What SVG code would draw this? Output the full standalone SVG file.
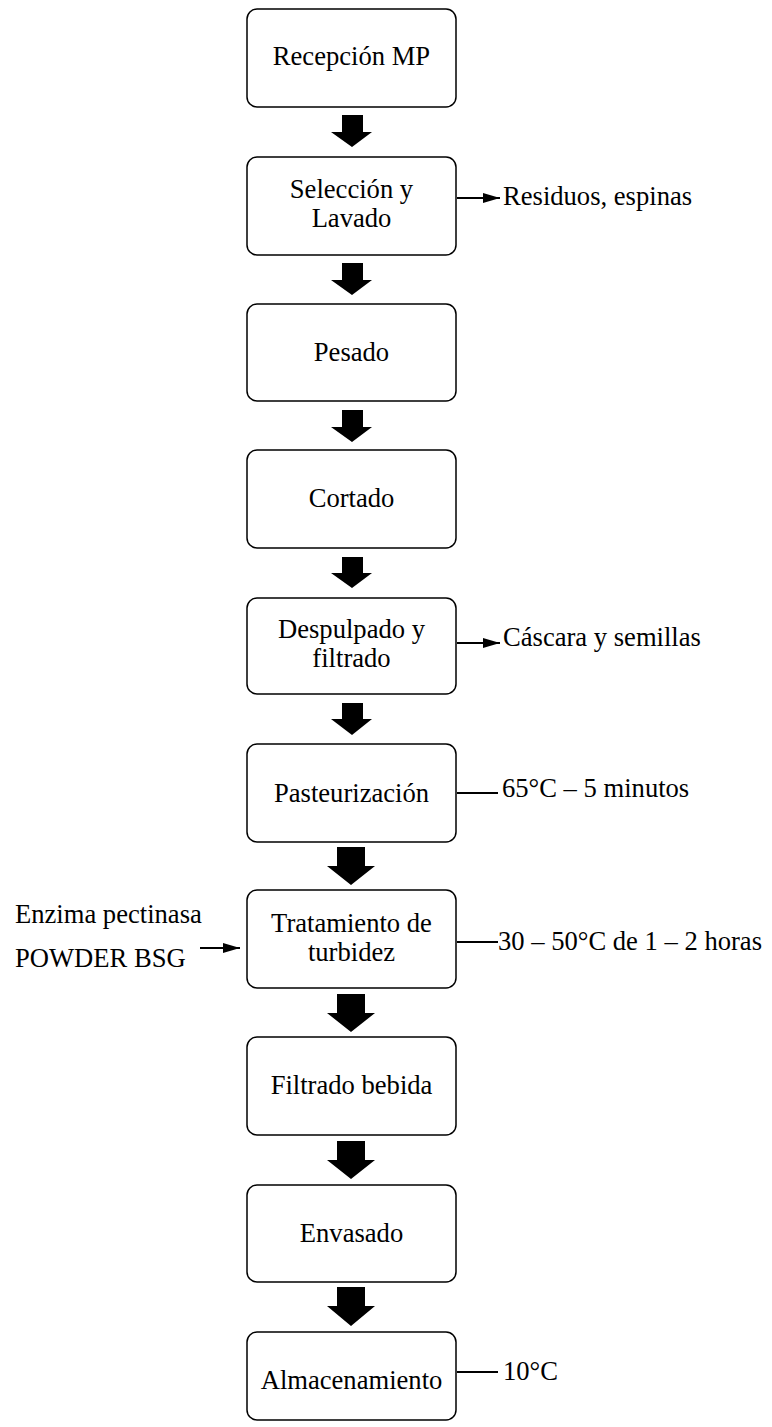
<svg xmlns="http://www.w3.org/2000/svg" width="772" height="1427" viewBox="0 0 772 1427">
  <style>
    .box { fill: #ffffff; stroke: #000000; stroke-width: 1.5; }
    .mid { text-anchor: middle; }
    .line { stroke: #000000; stroke-width: 2; fill: none; }
    .blk { fill: #000000; }
  </style>
  <defs>
    <marker id="tri" viewBox="0 0 17 10" refX="17" refY="5" markerWidth="17" markerHeight="10" markerUnits="userSpaceOnUse" orient="auto">
      <path d="M0,0 L17,5 L0,10 z" fill="#000000"/>
    </marker>
  </defs>

  <rect width="772" height="1427" fill="#ffffff"/>

  <g font-family="Liberation Serif, Times New Roman, serif" font-size="26.6" fill="#000000">
    <!-- process steps -->
    <g id="recepcion">
      <rect class="box" x="247" y="9" width="209" height="98" rx="10"/>
      <text class="mid" x="351.5" y="65">Recepción MP</text>
    </g>
    <g id="seleccion">
      <rect class="box" x="247" y="157" width="209" height="98" rx="10"/>
      <text class="mid" x="351.5" y="198">Selección y</text>
      <text class="mid" x="351.5" y="227">Lavado</text>
    </g>
    <g id="pesado">
      <rect class="box" x="247" y="304" width="209" height="97" rx="10"/>
      <text class="mid" x="351.5" y="361">Pesado</text>
    </g>
    <g id="cortado">
      <rect class="box" x="247" y="450" width="209" height="98" rx="10"/>
      <text class="mid" x="351.5" y="507">Cortado</text>
    </g>
    <g id="despulpado">
      <rect class="box" x="247" y="598" width="209" height="96" rx="10"/>
      <text class="mid" x="351.5" y="638">Despulpado y</text>
      <text class="mid" x="351.5" y="667">filtrado</text>
    </g>
    <g id="pasteurizacion">
      <rect class="box" x="247" y="744" width="209" height="98" rx="10"/>
      <text class="mid" x="351.5" y="802">Pasteurización</text>
    </g>
    <g id="tratamiento">
      <rect class="box" x="247" y="890" width="209" height="98" rx="10"/>
      <text class="mid" x="351.5" y="932">Tratamiento de</text>
      <text class="mid" x="351.5" y="961">turbidez</text>
    </g>
    <g id="filtrado-bebida">
      <rect class="box" x="247" y="1037" width="209" height="98" rx="10"/>
      <text class="mid" x="351.5" y="1094">Filtrado bebida</text>
    </g>
    <g id="envasado">
      <rect class="box" x="247" y="1185" width="209" height="97" rx="10"/>
      <text class="mid" x="351.5" y="1242">Envasado</text>
    </g>
    <g id="almacenamiento">
      <rect class="box" x="247" y="1332" width="209" height="88" rx="10"/>
      <text class="mid" x="351.5" y="1389">Almacenamiento</text>
    </g>

    <!-- side notes -->
    <g id="residuos">
      <text x="503" y="205">Residuos, espinas</text>
    </g>
    <g id="cascara">
      <text x="503" y="646">Cáscara y semillas</text>
    </g>
    <g id="temp-pasteurizacion">
      <text x="502" y="797">65°C – 5 minutos</text>
    </g>
    <g id="enzima">
      <text x="15" y="923">Enzima pectinasa</text>
      <text x="15" y="967">POWDER BSG</text>
    </g>
    <g id="temp-tratamiento">
      <text x="498" y="950">30 – 50°C de 1 – 2 horas</text>
    </g>
    <g id="temp-almacenamiento">
      <text x="503" y="1380">10°C</text>
    </g>
  </g>

  <!-- connectors -->
  <g id="connectors">
    <!-- block arrows between steps (small) -->
    <path class="blk" d="M342,115 H363 V132 H372 L352,147 L331,132 H342 Z"/>
    <path class="blk" d="M342,263 H363 V280 H372 L352,295 L331,280 H342 Z"/>
    <path class="blk" d="M342,410 H363 V427 H372 L352,442 L331,427 H342 Z"/>
    <path class="blk" d="M342,557 H363 V573 H372 L352,588 L331,573 H342 Z"/>
    <path class="blk" d="M342,703 H363 V719 H372 L352,735 L331,719 H342 Z"/>
    <!-- block arrows between steps (large) -->
    <path class="blk" d="M337,847 H365 V866 H375 L351,885 L327,866 H337 Z"/>
    <path class="blk" d="M337,994 H365 V1013 H375 L351,1032 L327,1013 H337 Z"/>
    <path class="blk" d="M337,1141 H365 V1160 H375 L351,1179 L327,1160 H337 Z"/>
    <path class="blk" d="M337,1287 H365 V1306 H375 L351,1326 L327,1306 H337 Z"/>

    <!-- side outputs -->
    <line class="line" x1="457" y1="198" x2="500" y2="198" marker-end="url(#tri)"/>
    <line class="line" x1="457" y1="643" x2="500" y2="643" marker-end="url(#tri)"/>
    <line class="line" x1="457" y1="793" x2="498" y2="793"/>
    <line class="line" x1="457" y1="942" x2="498" y2="942"/>
    <line class="line" x1="457" y1="1372" x2="498" y2="1372"/>
    <!-- enzyme input -->
    <line class="line" x1="200" y1="948" x2="240" y2="948" marker-end="url(#tri)"/>
  </g>
</svg>
